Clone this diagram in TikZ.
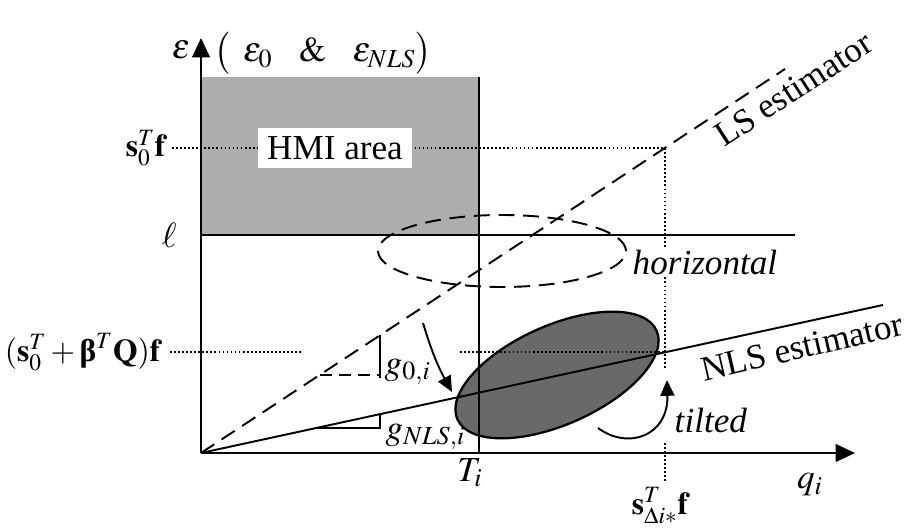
\documentclass[tikz,border=0pt]{standalone}
\usepackage{amsmath, bm}
\usepackage{mathptmx}
\usepackage[no-math]{fontspec}
\setmainfont{Liberation Serif}
\usepackage{tikz}
\usetikzlibrary{arrows.meta}
\definecolor{hmigray}{RGB}{173,173,173}
\definecolor{ellgray}{RGB}{105,105,105}
\tikzset{axis/.style={line width=1.3pt, -{Triangle[length=11pt,width=10pt]}}}
\tikzset{guide/.style={line width=0.9pt, dash pattern=on 1pt off 1.3pt}}
\tikzset{lsline/.style={line width=1.1pt, dash pattern=on 9pt off 5pt}}
\tikzset{turn/.style={line width=1.1pt, -{Triangle[length=9pt,width=8pt]}}}
\tikzset{mathlab/.style={font=\fontsize{18}{22}\selectfont}}

\begin{document}
\begin{tikzpicture}[line width=1.1pt, font=\fontsize{20}{24}\selectfont]
\useasboundingbox (-4.02,-1.54) rectangle (14.14,9.06);
\coordinate (O) at (0,0);
\coordinate (ytip) at (0,8.3);
\coordinate (xtip) at (13.08,0);
% HMI area
\fill[hmigray] (0,4.36) rectangle (5.56,7.52);
\coordinate (Ttop) at (5.56,7.52);
\coordinate (Tbot) at (5.56,0);
% error ellipses
\draw[lsline] (6.02,4.04) ellipse [x radius=2.48, y radius=0.72];
\filldraw[fill=ellgray, line width=1.3pt, rotate around={24:(7.12,1.56)}] (7.12,1.56) ellipse [x radius=2.18, y radius=0.99];
% dotted guides
\coordinate (sf) at (9.28,6.10);
\coordinate (sq) at (9.28,2.02);
\draw[guide] (-0.58,6.10) -- (sf) -- (9.28,1.66);
\draw[guide] (9.28,0.2) -- (9.28,-0.6);
\draw[guide] (-0.62,2.02) -- (2.04,2.02);
\draw[guide] (5.18,2.02) -- (sq);
\node[fill=white, inner sep=5pt] (hmi) at (2.68,6.10) {HMI area};
% threshold and T_i
\draw (0,4.36) -- (11.88,4.36);
\draw (Ttop) -- (Tbot);
% estimators
\draw[lsline] (O) -- (11.68,7.68);
\draw (O) -- (13.64,2.96);
% slope triangles
\draw[lsline, dash pattern=on 7pt off 4pt] (2.37,1.56) -- (3.58,1.56);
\draw (3.58,1.50) -- (3.58,2.35);
\draw (2.30,0.50) -- (3.58,0.50) -- (3.58,0.78);
% axes
\draw[axis] (O) -- (ytip);
\draw[axis] (O) -- (xtip);
% rotation arrows
\coordinate (ra) at (4.44,2.60);
\coordinate (rb) at (5.02,1.22);
\draw[turn] (ra) to[bend right=6] (rb);
\coordinate (ta) at (7.94,0.50);
\coordinate (tb) at (9.32,1.46);
\draw[turn] (ta) .. controls (8.55,0.05) and (9.35,0.35) .. (tb);
% labels
\node (eps) at (-0.40,8.06) {$\varepsilon$};
\node (pair) at (2.44,8.00) {$\bigl(\ \,\varepsilon_{0}\ \ \ \&\ \ \ \varepsilon_{NLS}\bigr)$};
\node[mathlab, anchor=east, inner sep=2pt] (sflab) at (-0.62,6.10) {$\mathbf{s}_0^T\mathbf{f}$};
\node[anchor=east, inner sep=2pt] (ell) at (-0.4,4.36) {$\ell$};
\node[mathlab, anchor=east, inner sep=2pt] (sqlab) at (-0.72,2.02) {$(\mathbf{s}_0^T+\text{\bfseries β}^T\mathbf{Q})\mathbf{f}$};
\node[anchor=west, inner sep=1pt] (g0) at (3.62,1.62) {$g_{0,i}$};
\node[anchor=west, inner sep=1pt] (gnls) at (3.64,0.32) {$g_{NLS,i}$};
\node[anchor=west, fill=white, inner sep=1pt] (hor) at (8.58,3.82) {\textit{horizontal}};
\node[anchor=west, inner sep=1pt] (tilt) at (9.42,0.66) {\textit{tilted}};
\node (Tlab) at (5.38,-0.40) {$T_i$};
\node[mathlab] (slab) at (9.18,-1.06) {$\mathbf{s}_{\Delta i*}^T\mathbf{f}$};
\node (qlab) at (12.18,-0.64) {$q_i$};
\node[rotate=33] (lslab) at (11.85,7.28) {LS estimator};
\node[rotate=13] (nlslab) at (12.02,2.12) {NLS estimator};
\end{tikzpicture}
\end{document}
